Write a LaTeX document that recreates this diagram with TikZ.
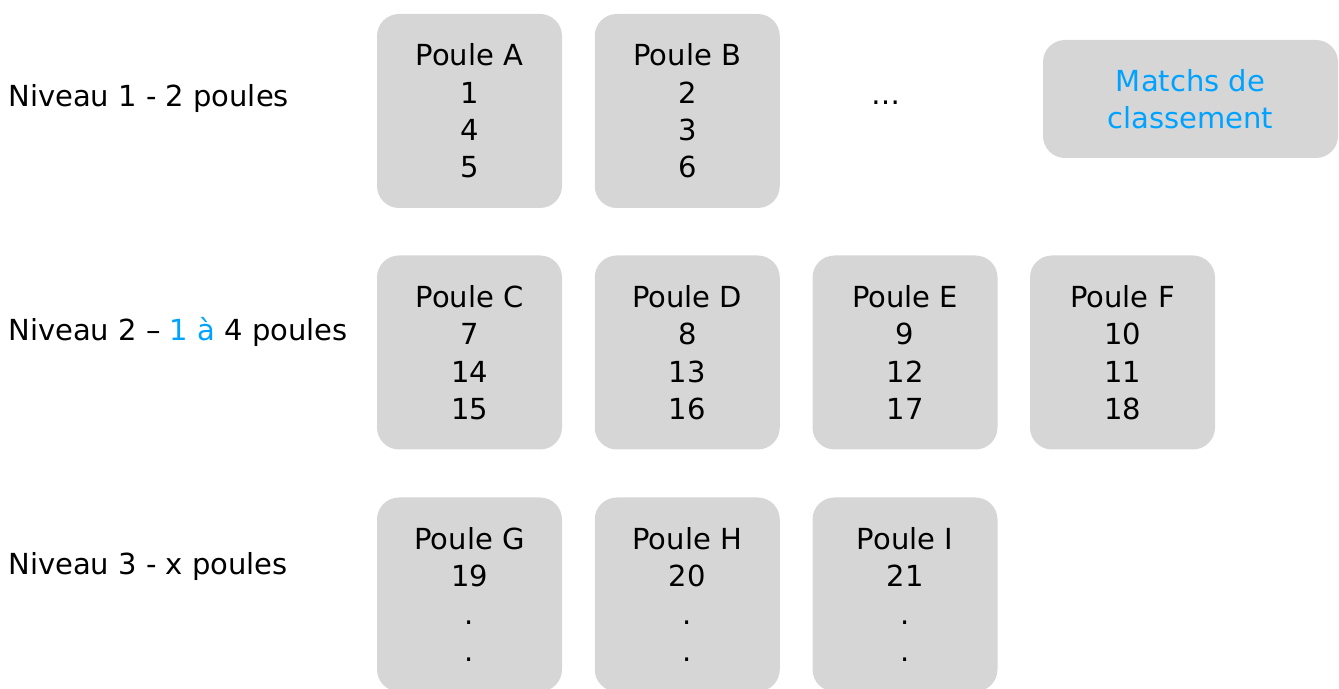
\documentclass[tikz,border=0pt]{standalone}
\usepackage{fontspec}
\setmainfont{DejaVu Sans}
\definecolor{poulegray}{RGB}{214,214,214}
\definecolor{classblue}{RGB}{0,162,255}
\tikzset{
  poule/.style={fill=poulegray, rounded corners=0.44cm, minimum width=3.7cm,
    minimum height=3.88cm, align=center, inner sep=0pt,
    font=\fontsize{16.5}{21.3}\selectfont},
  niveau/.style={anchor=base west, inner sep=0pt, font=\fontsize{16.5}{21.3}\selectfont}
}
\begin{document}
\begin{tikzpicture}
      \useasboundingbox (0,0) rectangle (26.78,-13.78);
      \clip (0,0) rectangle (26.78,-13.78);
      % niveaux
      \draw
        (0.16,-2.14) node[niveau] (n1){Niveau 1 - 2 poules}
        (0.16,-6.82) node[niveau] (n2){Niveau 2 – {\color{classblue}1 à} 4 poules}
        (0.16,-11.50) node[niveau] (n3){Niveau 3 - x poules};
      % poules
      \draw
        (9.39,-2.22) node[poule] (A){Poule A\\1\\4\\5}
        (13.745,-2.22) node[poule] (B){Poule B\\2\\3\\6}
        (9.39,-7.05) node[poule] (C){Poule C\\7\\14\\15}
        (13.745,-7.05) node[poule] (D){Poule D\\8\\13\\16}
        (18.10,-7.05) node[poule] (E){Poule E\\9\\12\\17}
        (22.45,-7.05) node[poule] (F){Poule F\\10\\11\\18}
        (9.39,-11.89) node[poule] (G){Poule G\\19\\.\\.}
        (13.745,-11.89) node[poule] (H){Poule H\\20\\.\\.}
        (18.10,-11.89) node[poule] (I){Poule I\\21\\.\\.};
      \draw
        (17.71,-2.10) node[anchor=base, inner sep=0pt, font=\fontsize{16.5}{21.3}\selectfont] (etc){…}
        (23.81,-1.98) node[poule, minimum width=5.9cm, minimum height=2.36cm,
          text=classblue] (M){Matchs de\\classement};
    \end{tikzpicture}
\end{document}
